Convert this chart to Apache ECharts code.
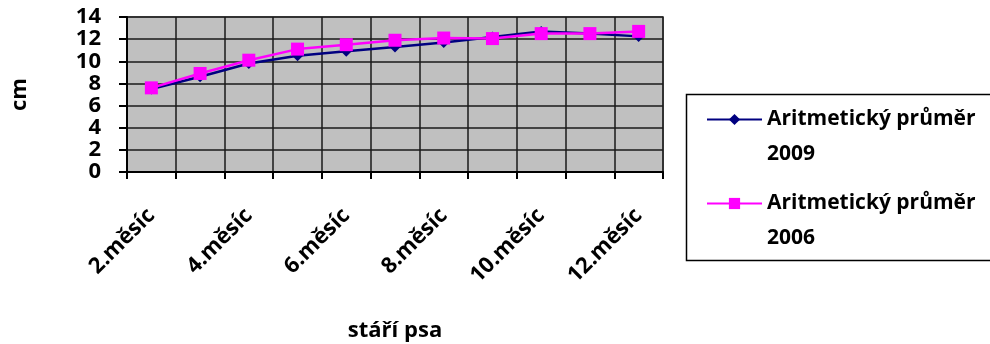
<!DOCTYPE html>
<html>
<head>
<meta charset="utf-8">
<script src="https://cdn.jsdelivr.net/npm/echarts@6/dist/echarts.min.js"></script>
<style>
  html, body { margin: 0; padding: 0; background: #fff; }
  #chart { width: 990px; height: 344px; }
</style>
</head>
<body>
<div id="chart"></div>
<script>
// Average length (cm) by dog age in months, two survey years
const categories = ['2.měsíc', '3.měsíc', '4.měsíc', '5.měsíc', '6.měsíc', '7.měsíc',
                    '8.měsíc', '9.měsíc', '10.měsíc', '11.měsíc', '12.měsíc'];
const mean2009 = [7.5, 8.6, 9.8, 10.5, 10.9, 11.3, 11.7, 12.2, 12.7, 12.5, 12.25];
const mean2006 = [7.6, 8.9, 10.1, 11.1, 11.5, 11.9, 12.1, 12.05, 12.5, 12.5, 12.7];
const seriesNames = ['Aritmetický průměr 2009', 'Aritmetický průměr 2006'];
const yTicks = [0, 2, 4, 6, 8, 10, 12, 14];

const FONT = '"Open Sans"';
const chart = echarts.init(document.getElementById('chart'), null, { renderer: 'canvas' });

chart.setOption({
  animation: false,
  backgroundColor: '#ffffff',
  grid: {
    left: 127, right: 327, top: 17, bottom: 172,
    outerBoundsMode: 'none',
    containLabel: false,
    show: true,
    backgroundColor: '#c0c0c0',
    borderColor: '#808080',
    borderWidth: 2
  },
  // frame around the legend block
  graphic: [{
    type: 'rect',
    left: 684, top: 92,
    shape: { width: 330, height: 166 },
    style: { fill: 'none', stroke: '#000', lineWidth: 1.5 },
    silent: true
  }],
  legend: {
    left: 706, top: 67,
    orient: 'vertical',
    padding: 0,
    itemWidth: 55,
    itemHeight: 14,
    itemGap: -21,
    data: seriesNames,
    // blank first line keeps the icon level with the first text line
    formatter: name => ' \n' + name.replace(/ (\d{4})$/, '\n$1'),
    textStyle: {
      fontFamily: FONT, fontWeight: 'bold', fontSize: 21, color: '#000',
      lineHeight: 35
    }
  },
  xAxis: {
    type: 'category',
    data: categories,
    boundaryGap: true,
    name: 'stáří psa',
    nameLocation: 'middle',
    nameGap: 148,
    nameTextStyle: { fontFamily: FONT, fontWeight: 'bold', fontSize: 22, color: '#000' },
    axisLine: { lineStyle: { color: '#000', width: 2 } },
    axisTick: { show: true, interval: 0, length: 7, lineStyle: { color: '#000', width: 2 } },
    axisLabel: {
      interval: 1, rotate: 45, margin: 40, hideOverlap: false,
      fontFamily: FONT, fontWeight: 'bold', fontSize: 22, color: '#000'
    },
    splitLine: { show: true, interval: 0, lineStyle: { color: '#1a1a1a', width: 1.5 } }
  },
  yAxis: {
    type: 'value',
    min: yTicks[0], max: yTicks[yTicks.length - 1], interval: 2,
    name: 'cm',
    nameLocation: 'middle',
    nameRotate: 90,
    nameGap: 96,
    nameTextStyle: { fontFamily: FONT, fontWeight: 'bold', fontSize: 22, color: '#000' },
    axisLine: { show: true, lineStyle: { color: '#000', width: 2 } },
    axisTick: { show: true, length: 8, lineStyle: { color: '#000', width: 2 } },
    axisLabel: {
      margin: 26, fontFamily: FONT, fontWeight: 'bold', fontSize: 22, color: '#000',
      lineHeight: 18, showMinLabel: true, showMaxLabel: true, hideOverlap: false
    },
    splitLine: { show: true, lineStyle: { color: '#1a1a1a', width: 1.5 } }
  },
  series: [
    {
      name: seriesNames[0], type: 'line', data: mean2009,
      symbol: 'diamond', symbolSize: 11,
      itemStyle: { color: '#000080' },
      lineStyle: { color: '#000080', width: 2.5 },
      z: 2
    },
    {
      name: seriesNames[1], type: 'line', data: mean2006,
      symbol: 'rect', symbolSize: 13,
      itemStyle: { color: '#ff00ff' },
      lineStyle: { color: '#ff00ff', width: 2.5 },
      z: 3
    }
  ]
});
</script>
</body>
</html>
